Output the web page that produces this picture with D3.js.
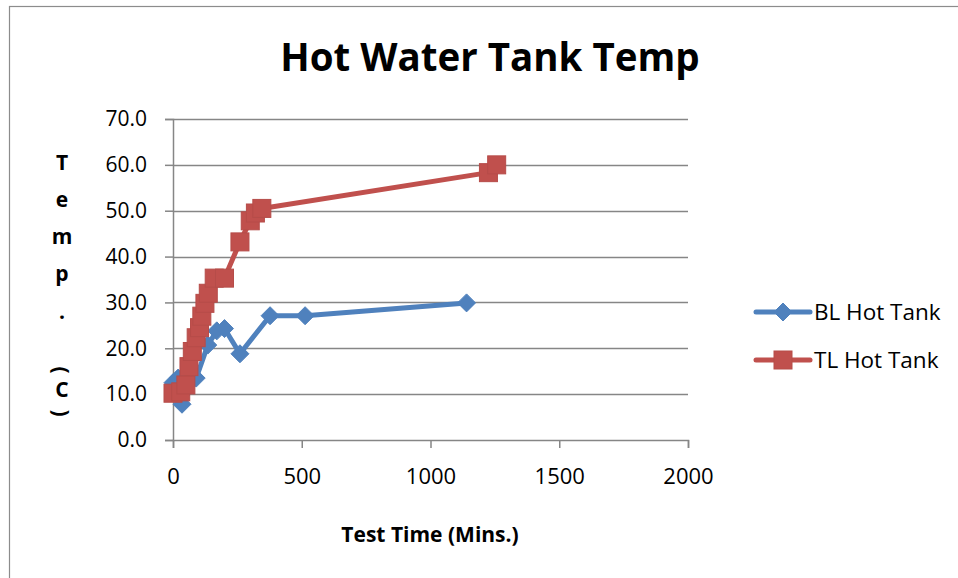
<!DOCTYPE html>
<html>
<head>
<meta charset="utf-8">
<script src="https://cdn.jsdelivr.net/npm/d3@7"></script>
<style>
  html, body { margin: 0; padding: 0; background: #fff; }
  svg { display: block; }
</style>
</head>
<body>
<svg id="chart" width="958" height="578"></svg>
<script>
// ---- data ----
const chartTitle = "Hot Water Tank Temp";
const xTitle = "Test Time (Mins.)";
const yTitleChars = ["T", "e", "m", "p", ".", "(", "C", ")"];
const seriesNames = ["BL Hot Tank", "TL Hot Tank"];
const blMinutes = [0, 20, 35, 90, 135, 170, 200, 260, 377, 513, 1140];
const blTemp    = [12.5, 13.5, 7.8, 13.5, 20.7, 23.8, 24.3, 18.8, 27.1, 27.1, 29.9];
const tlMinutes = [0, 30, 50, 62, 75, 90, 103, 112, 124, 137, 160, 200, 260, 300, 320, 345, 1225, 1257];
const tlTemp    = [10.2, 10.5, 12.0, 16.0, 19.3, 22.3, 24.5, 27.0, 29.8, 32.0, 35.3, 35.3, 43.2, 47.8, 49.5, 50.5, 58.3, 60.0];
const xTicks = [0, 500, 1000, 1500, 2000];
const yTicks = [0, 10, 20, 30, 40, 50, 60, 70];

// ---- setup ----
const svg = d3.select("#chart");
const FONT = "'Open Sans', sans-serif";
const colors = ["#4F81BD", "#C0504D"];
const gridColor = "#868686";

const x = d3.scaleLinear().domain([0, 2000]).range([173, 688]);
const y = d3.scaleLinear().domain([0, 70]).range([440, 119]);

// outer border
svg.append("rect")
  .attr("x", 9.5).attr("y", 6.5).attr("width", 1000).attr("height", 700)
  .attr("fill", "none").attr("stroke", "#8c8c8c").attr("stroke-width", 1.2);

// title
svg.append("text")
  .attr("x", 490).attr("y", 71)
  .attr("text-anchor", "middle")
  .attr("font-family", FONT).attr("font-weight", 700).attr("font-size", 38.5)
  .attr("fill", "#000")
  .text(chartTitle);

// gridlines
svg.append("g").selectAll("line").data(yTicks.filter(d => d > 0)).join("line")
  .attr("x1", x(0)).attr("x2", x(2000))
  .attr("y1", d => Math.round(y(d)) + 0.5).attr("y2", d => Math.round(y(d)) + 0.5)
  .attr("stroke", gridColor).attr("stroke-width", 1.5);

// y axis
const yAxis = d3.axisLeft(y).tickValues(yTicks).tickFormat(d3.format(".1f")).tickSize(8).tickPadding(18);
const gy = svg.append("g").attr("transform", `translate(${x(0)},0)`).call(yAxis);
gy.select(".domain").attr("stroke", gridColor).attr("stroke-width", 1.5);
gy.selectAll(".tick line").attr("stroke", gridColor).attr("stroke-width", 1.5);
gy.selectAll(".tick text").attr("font-family", FONT).attr("font-size", 21).attr("fill", "#000");

// x axis
const xAxis = d3.axisBottom(x).tickValues(xTicks).tickFormat(d3.format("d")).tickSize(8).tickPadding(20);
const gx = svg.append("g").attr("transform", `translate(0,${y(0)})`).call(xAxis);
gx.select(".domain").attr("stroke", gridColor).attr("stroke-width", 1.5);
gx.selectAll(".tick line").attr("stroke", gridColor).attr("stroke-width", 1.5);
gx.selectAll(".tick text").attr("font-family", FONT).attr("font-size", 22).attr("fill", "#000");

// x title
svg.append("text")
  .attr("x", 430).attr("y", 542)
  .attr("text-anchor", "middle")
  .attr("font-family", FONT).attr("font-weight", 700).attr("font-size", 21)
  .attr("fill", "#000")
  .text(xTitle);

// y title (stacked)
const yTitleY = [170, 207, 244, 281, 319, 370, 397, 413];
const yt = svg.append("g");
yTitleChars.forEach((c, i) => {
  const t = yt.append("text")
    .attr("font-family", FONT).attr("font-weight", 700).attr("font-size", 21)
    .attr("fill", "#000").attr("text-anchor", "middle")
    .text(c);
  if (c === "(" || c === ")") {
    t.attr("dominant-baseline", "central")
     .attr("transform", `translate(62,${yTitleY[i]}) rotate(90)`);
  } else {
    t.attr("x", 62).attr("y", yTitleY[i]);
  }
});

// series
const series = [
  { name: seriesNames[0], pts: blMinutes.map((m, i) => [m, blTemp[i]]), color: colors[0], shape: "diamond" },
  { name: seriesNames[1], pts: tlMinutes.map((m, i) => [m, tlTemp[i]]), color: colors[1], shape: "square" }
];

const line = d3.line().x(d => x(d[0])).y(d => y(d[1]));
const diamondPath = "M0,-9L9,0L0,9L-9,0Z";

function drawMarker(g, shape, color) {
  if (shape === "diamond") {
    g.append("path").attr("d", diamondPath).attr("fill", color).attr("stroke", color).attr("stroke-width", 1);
  } else {
    g.append("rect").attr("x", -9).attr("y", -9).attr("width", 18).attr("height", 18)
      .attr("fill", color).attr("stroke", d3.color(color).darker(0.15)).attr("stroke-width", 1);
  }
}

series.forEach(s => {
  const g = svg.append("g");
  g.append("path").datum(s.pts).attr("d", line)
    .attr("fill", "none").attr("stroke", s.color).attr("stroke-width", 5)
    .attr("stroke-linejoin", "round").attr("stroke-linecap", "round");
  g.selectAll("g.m").data(s.pts).join("g").attr("class", "m")
    .attr("transform", d => `translate(${x(d[0])},${y(d[1])})`)
    .each(function() { drawMarker(d3.select(this), s.shape, s.color); });
});

// legend
const legendY = [312, 360];
series.forEach((s, i) => {
  const g = svg.append("g").attr("transform", `translate(0,${legendY[i]})`);
  g.append("line").attr("x1", 756).attr("x2", 810).attr("y1", 0).attr("y2", 0)
    .attr("stroke", s.color).attr("stroke-width", 5).attr("stroke-linecap", "round");
  const mg = g.append("g").attr("transform", "translate(783,0)");
  drawMarker(mg, s.shape, s.color);
  g.append("text").attr("x", 814).attr("y", 8)
    .attr("font-family", FONT).attr("font-size", 22.5).attr("fill", "#000")
    .text(s.name);
});
</script>
</body>
</html>
